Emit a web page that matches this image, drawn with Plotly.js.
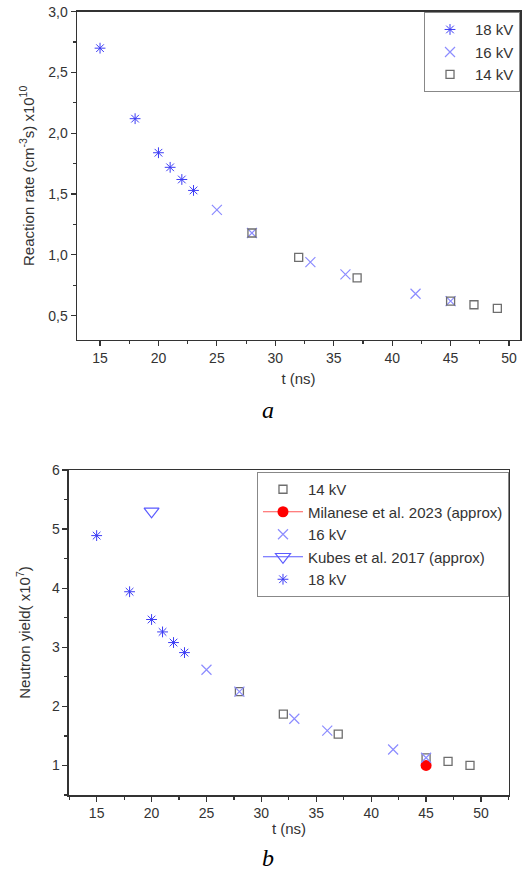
<!DOCTYPE html>
<html>
<head>
<meta charset="utf-8">
<script src="https://cdn.plot.ly/plotly-3.0.1.min.js"></script>
<style>html,body{margin:0;padding:0;background:#fff;}#chart{width:525px;height:872px;}</style>
</head>
<body>
<div id="chart"></div>
<script>
// ---- Panel a: reaction rate (x10^10 cm^-3 s^-1) ----
const a_t18 = [15, 18, 20, 21, 22, 23];
const a_r18 = [2.70, 2.12, 1.84, 1.72, 1.62, 1.53];
const a_t16 = [25, 28, 33, 36, 42, 45];
const a_r16 = [1.37, 1.18, 0.94, 0.84, 0.68, 0.62];
const a_t14 = [28, 32, 37, 45, 47, 49];
const a_r14 = [1.18, 0.98, 0.81, 0.62, 0.59, 0.56];

// ---- Panel b: neutron yield (x10^7) ----
const b_t14 = [28, 32, 37, 45, 47, 49];
const b_y14 = [2.25, 1.87, 1.53, 1.13, 1.07, 1.00];
const b_tMil = [45];
const b_yMil = [1.00];
const b_t16 = [25, 28, 33, 36, 42, 45];
const b_y16 = [2.62, 2.25, 1.79, 1.59, 1.27, 1.13];
const b_tKub = [20];
const b_yKub = [5.30];
const b_t18 = [15, 18, 20, 21, 22, 23];
const b_y18 = [4.89, 3.94, 3.47, 3.26, 3.08, 2.91];

const C18 = '#3c3cf5', C16 = '#8c8cff', C14 = '#6e6e6e';
const m18 = {symbol: 'asterisk-open', size: 9, color: C18, line: {color: C18, width: 1}};
const m16 = {symbol: 'x-thin-open', size: 10, color: C16, line: {color: C16, width: 1.2}};
const m14 = {symbol: 'square-open', size: 8, color: C14, line: {color: C14, width: 1.3}};

const traces = [
  {x: a_t18, y: a_r18, name: '18 kV', mode: 'markers', marker: m18, xaxis: 'x', yaxis: 'y', legend: 'legend'},
  {x: a_t16, y: a_r16, name: '16 kV', mode: 'markers', marker: m16, xaxis: 'x', yaxis: 'y', legend: 'legend'},
  {x: a_t14, y: a_r14, name: '14 kV', mode: 'markers', marker: m14, xaxis: 'x', yaxis: 'y', legend: 'legend'},

  {x: b_t14, y: b_y14, name: '14 kV', mode: 'markers', marker: m14, xaxis: 'x2', yaxis: 'y2', legend: 'legend2'},
  {x: b_tMil, y: b_yMil, name: 'Milanese et al. 2023 (approx)', mode: 'lines+markers',
   line: {color: '#ff5555', width: 1}, marker: {symbol: 'circle', size: 11, color: '#ff0000'},
   xaxis: 'x2', yaxis: 'y2', legend: 'legend2'},
  {x: b_t16, y: b_y16, name: '16 kV', mode: 'markers', marker: m16, xaxis: 'x2', yaxis: 'y2', legend: 'legend2'},
  {x: b_tKub, y: b_yKub, name: 'Kubes et al. 2017 (approx)', mode: 'lines+markers',
   line: {color: '#5a5aff', width: 1},
   marker: {symbol: 'triangle-down-open', size: 13, color: '#5a5aff', line: {color: '#5a5aff', width: 1.2}},
   xaxis: 'x2', yaxis: 'y2', legend: 'legend2'},
  {x: b_t18, y: b_y18, name: '18 kV', mode: 'markers', marker: m18, xaxis: 'x2', yaxis: 'y2', legend: 'legend2'}
];

const FONT = 'Liberation Sans, Arial, sans-serif';
const TXT = '#333';
const axisCommon = {
  showline: true, mirror: true, linecolor: '#333', linewidth: 1.5,
  ticks: 'outside', ticklen: 5, tickwidth: 1.2, tickcolor: '#333',
  showgrid: false, zeroline: false,
  tickfont: {family: FONT, size: 14, color: TXT},
  automargin: false
};

const layout = {
  width: 525, height: 872,
  margin: {l: 0, r: 0, t: 0, b: 0},
  paper_bgcolor: '#fff', plot_bgcolor: '#fff',
  separators: ',.',
  font: {family: FONT, size: 14, color: TXT},
  xaxis: Object.assign({}, axisCommon, {
    domain: [0.1467, 0.9905], range: [13.03, 50.94], anchor: 'y',
    tick0: 15, dtick: 5,
    minor: {ticks: 'outside', dtick: 2.5, ticklen: 3, tickcolor: '#333'},
    title: {text: 't (ns)', font: {family: FONT, size: 15, color: TXT}, standoff: 8}
  }),
  yaxis: Object.assign({}, axisCommon, {
    domain: [0.6101, 0.9866], range: [0.3, 3.0], anchor: 'x',
    tick0: 0.5, dtick: 0.5, tickformat: '.1f',
    minor: {ticks: 'outside', dtick: 0.25, ticklen: 3, tickcolor: '#333'},
    title: {text: 'Reaction rate (cm<sup>-3</sup>s) x10<sup>10</sup>', font: {family: FONT, size: 15, color: TXT}, standoff: 10}
  }),
  xaxis2: Object.assign({}, axisCommon, {
    domain: [0.1314, 0.9695], range: [12.48, 52.55], anchor: 'y2',
    tick0: 15, dtick: 5,
    minor: {ticks: 'outside', dtick: 2.5, ticklen: 3, tickcolor: '#333'},
    title: {text: 't (ns)', font: {family: FONT, size: 15, color: TXT}, standoff: 3}
  }),
  yaxis2: Object.assign({}, axisCommon, {
    domain: [0.0883, 0.4610], range: [0.5, 6], anchor: 'x2',
    tick0: 0, dtick: 1,
    minor: {ticks: 'outside', dtick: 0.5, ticklen: 3, tickcolor: '#333'},
    title: {text: 'Neutron yield( x10<sup>7</sup>)', font: {family: FONT, size: 15, color: TXT}, standoff: 17}
  }),
  legend: {
    x: 0.9905, y: 0.986, xanchor: 'right', yanchor: 'top',
    bgcolor: '#fff', bordercolor: '#888', borderwidth: 1,
    font: {family: FONT, size: 15, color: TXT}, tracegroupgap: 0, itemwidth: 40
  },
  legend2: {
    x: 0.9695, y: 0.4587, xanchor: 'right', yanchor: 'top',
    bgcolor: '#fff', bordercolor: '#888', borderwidth: 1,
    font: {family: FONT, size: 15, color: TXT}, tracegroupgap: 0, itemwidth: 40
  },
  showlegend: true,
  annotations: [
    {text: '<i>a</i>', xref: 'paper', yref: 'paper', x: 268 / 525, y: 1 - 410 / 872,
     xanchor: 'center', yanchor: 'middle', showarrow: false,
     font: {family: 'Liberation Serif, Times New Roman, serif', size: 24, color: '#000'}},
    {text: '<i>b</i>', xref: 'paper', yref: 'paper', x: 268 / 525, y: 1 - 858 / 872,
     xanchor: 'center', yanchor: 'middle', showarrow: false,
     font: {family: 'Liberation Serif, Times New Roman, serif', size: 24, color: '#000'}}
  ]
};

Plotly.newPlot('chart', traces, layout, {staticPlot: true, displayModeBar: false});
</script>
</body>
</html>
